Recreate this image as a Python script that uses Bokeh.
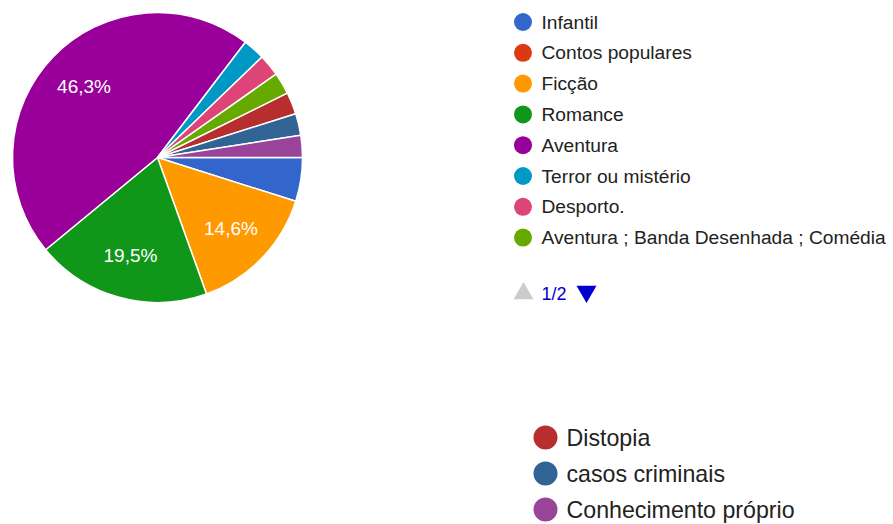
import numpy as np
from bokeh.plotting import figure
from bokeh.models import Range1d, ColumnDataSource
from bokeh.core.properties import value
from bokeh.embed import file_html
from bokeh.resources import INLINE

# ---- data ----
categories = ["Infantil", "Contos populares", "Ficção", "Romance", "Aventura",
              "Terror ou mistério", "Desporto.", "Aventura ; Banda Desenhada ; Comédia",
              "Distopia", "casos criminais", "Conhecimento próprio"]
counts = [2, 0, 6, 8, 19, 1, 1, 1, 1, 1, 1]
colors = ["#3366cc", "#dc3912", "#ff9900", "#109618", "#990099", "#0099c6",
          "#dd4477", "#66aa00", "#b82e2e", "#316395", "#994499"]
page1 = categories[:8]
page2 = categories[8:]
pager_text = "1/2"

W, H = 893, 524
def X(px):
    return px
def Y(py):
    return H - py

FONT = value("Liberation Sans")

p = figure(width=W, height=H, x_range=Range1d(0, W), y_range=Range1d(0, H),
           output_backend="svg", toolbar_location=None, min_border=0)
p.axis.visible = False
p.grid.visible = False
p.outline_line_color = None
p.background_fill_color = "white"

# ---- pie ----
vals = np.array(counts, dtype=float)
frac = vals / vals.sum()
ang = frac * 2 * np.pi
cum = np.concatenate([[0], np.cumsum(ang)])
cx, cy, R = X(157), Y(157), 145
mask = vals > 0
src = ColumnDataSource(dict(
    start=(-cum[:-1])[mask], end=(-cum[1:])[mask],
    color=np.array(colors)[mask].tolist(),
))
p.wedge(x=cx, y=cy, radius=R, radius_units="screen", start_angle="start", end_angle="end",
        direction="clock", fill_color="color", line_color="white", line_width=1.5, source=src)

# percentage labels
mid = -(cum[:-1] + cum[1:]) / 2
lab_r = 102
lx, ly, lt = [], [], []
for f, m in zip(frac, mid):
    if f >= 0.05:
        lx.append(cx + lab_r * np.cos(m))
        ly.append(cy + lab_r * np.sin(m))
        lt.append(("%.1f%%" % (f * 100)).replace(".", ","))
p.text(x=lx, y=ly, text=lt, text_color="white", text_font=FONT, text_font_size="19px",
       text_align="center", text_baseline="middle")

# ---- legend page 1 ----
ly1 = [Y(21.5 + i * 30.8) for i in range(len(page1))]
p.scatter(x=[X(522.5)] * len(page1), y=ly1, size=18, marker="circle",
          fill_color=colors[:8], line_color=None)
p.text(x=[X(541)] * len(page1), y=ly1, text=page1, text_color="#222222",
       text_font=FONT, text_font_size="19.2px", text_align="left", text_baseline="middle")

# pager
p.scatter(x=[X(523)], y=[Y(293)], size=20, marker="triangle", fill_color="#cccccc", line_color=None)
p.text(x=[X(541)], y=[Y(293)], text=[pager_text], text_color="#0000cc", text_font=FONT,
       text_font_size="18px", text_align="left", text_baseline="middle")
p.scatter(x=[X(586)], y=[Y(291)], size=20, marker="inverted_triangle", fill_color="#0000cc", line_color=None)

# ---- legend page 2 ----
ly2 = [Y(437 + i * 36) for i in range(len(page2))]
p.scatter(x=[X(545)] * len(page2), y=ly2, size=24, marker="circle",
          fill_color=colors[8:], line_color=None)
p.text(x=[X(566)] * len(page2), y=ly2, text=page2, text_color="#222222",
       text_font=FONT, text_font_size="23.2px", text_align="left", text_baseline="middle")

open("out.html", "w").write(file_html(p, INLINE))
